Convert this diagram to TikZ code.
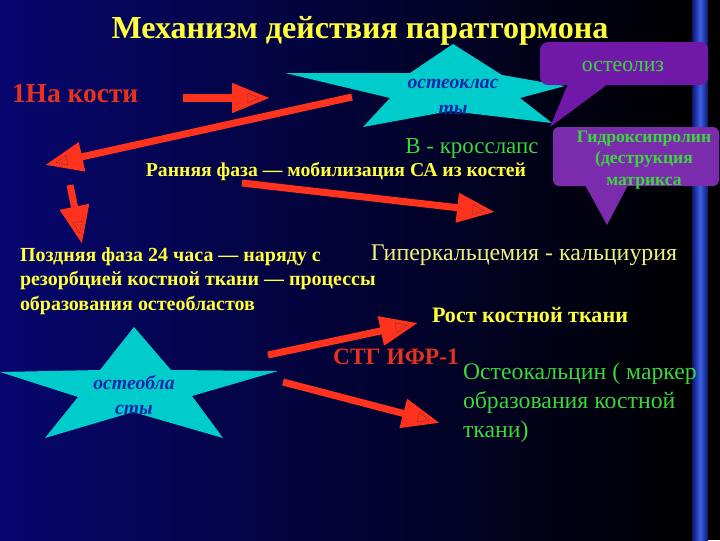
\documentclass[tikz,border=0pt]{standalone}
\usepackage{fontspec}
\setmainfont{Liberation Serif}
\usetikzlibrary{arrows.meta,calc}

\definecolor{bgnavy}{RGB}{6,6,110}
\definecolor{stripebright}{RGB}{60,95,230}
\definecolor{stripedark}{RGB}{12,22,110}
\definecolor{arrowred}{RGB}{255,50,30}
\definecolor{starcyan}{RGB}{0,204,204}
\definecolor{startext}{RGB}{20,40,170}
\definecolor{calloutpurple}{RGB}{112,24,168}
\definecolor{calloutpurpleb}{RGB}{122,44,172}
\definecolor{textgreen}{RGB}{60,215,60}
\definecolor{textyellow}{RGB}{255,255,60}
\definecolor{textpaleyellow}{RGB}{240,240,130}
\definecolor{textred}{RGB}{228,50,30}

\tikzset{
  blockarrow/.style={draw=arrowred, line width=5pt, -{Triangle[length=27pt,width=20pt]}},
  headmark/.style={draw=black!75, line width=0.3pt, dash pattern=on 1pt off 0.8pt},
  txt/.style={inner sep=0pt, outer sep=0pt},
  startxt/.style={txt, text=startext, font=\bfseries\itshape\fontsize{14pt}{18pt}\selectfont, align=center},
}

\newcommand{\blockarrow}[2]{%
  \draw[blockarrow] (#1) -- (#2);
  \draw[headmark] ($(#2)!8pt!(#1)$) -- ($(#2)!16pt!(#1)!3.5pt!90:(#1)$) -- ($(#2)!16pt!(#1)!3.5pt!-90:(#1)$) -- cycle;
}

\begin{document}
\begin{tikzpicture}[x=0.025cm,y=-0.025cm]
% background
\shade[left color=bgnavy, right color=black] (0,0) rectangle (692,540);
\shade[left color=stripedark, right color=stripebright] (692,0) rectangle (700,540);
\shade[left color=stripebright, right color=stripedark] (700,0) rectangle (708,540);
\fill[black] (708,0) rectangle (720,540);
\useasboundingbox (0,0) rectangle (720,540);

% arrow end points
\coordinate (a1s) at (183,98);  \coordinate (a1e) at (270,98);
\coordinate (a2s) at (352,97);  \coordinate (a2e) at (45,165);
\coordinate (a3s) at (70,185);  \coordinate (a3e) at (82,244);
\coordinate (a4s) at (242,183); \coordinate (a4e) at (495,212);
\coordinate (a5s) at (268,355); \coordinate (a5e) at (418,323);
\coordinate (a6s) at (283,382); \coordinate (a6e) at (440,423);

\blockarrow{a1s}{a1e}
\blockarrow{a2s}{a2e}
\blockarrow{a3s}{a3e}
\blockarrow{a4s}{a4e}
\blockarrow{a5s}{a5e}
\blockarrow{a6s}{a6e}

% stars
\fill[starcyan] (453,44) -- (502,75) -- (565,86) -- (520,98) -- (552,123) -- (450,111)
  -- (363,127) -- (390,98) -- (285,73) -- (410,73) -- cycle;
\fill[starcyan] (134,327) -- (171,370) -- (278,371) -- (192,396) -- (223,438) -- (133,412)
  -- (45,438) -- (78,397) -- (0,372) -- (100,370) -- cycle;

\node[startxt] (oclast) at (453,97) {остеоклас\\ты};
\node[startxt] (oblast) at (134,395) {остеобла\\сты};

% callouts
\fill[calloutpurple, rounded corners=5.7pt] (540,42) rectangle (708,85);
\fill[calloutpurple] (568,84) -- (550,127) -- (608,84) -- cycle;
\fill[calloutpurpleb, rounded corners=4.3pt] (553,127) rectangle (719,186);
\fill[calloutpurpleb] (585,185) -- (607,225) -- (628,185) -- cycle;

% texts
\node[txt, text=textyellow, font=\bfseries\fontsize{22.8pt}{27pt}\selectfont] (title) at (360,31) {Механизм действия паратгормона};
\node[txt, anchor=base west, text=textred, font=\bfseries\fontsize{19.5pt}{23pt}\selectfont] (bone) at (12,102) {1На кости};
\node[txt, text=textgreen, font=\fontsize{15.5pt}{19pt}\selectfont] (osteolysis) at (623,66) {остеолиз};
\node[txt, text=textgreen, font=\bfseries\fontsize{12.5pt}{15.3pt}\selectfont, align=center] (hydroxy) at (644,160) {Гидроксипролин\\(деструкция\\матрикса};
\node[txt, text=textgreen, font=\fontsize{16.3pt}{19pt}\selectfont] (crosslaps) at (472,148) {В - кросслапс};
\node[txt, text=textyellow, font=\bfseries\fontsize{14pt}{17pt}\selectfont] (early) at (336,172) {Ранняя фаза — мобилизация СА из костей};
\node[txt, text=textpaleyellow, font=\fontsize{17pt}{20pt}\selectfont] (hyper) at (524,255) {Гиперкальцемия - кальциурия};
\node[txt, anchor=west, text=textyellow, font=\bfseries\fontsize{14.2pt}{17.4pt}\selectfont, align=left] (late) at (20,281) {Поздняя фаза 24 часа — наряду с\\резорбцией костной ткани — процессы\\образования остеобластов};
\node[txt, text=textyellow, font=\bfseries\fontsize{15.7pt}{18pt}\selectfont] (growth) at (530,315) {Рост костной ткани};
\node[txt, text=textred, font=\bfseries\fontsize{16.7pt}{19pt}\selectfont] (stg) at (396,357) {СТГ ИФР-1};
\node[txt, anchor=west, text=textgreen, font=\fontsize{16.9pt}{20.5pt}\selectfont, align=left] (osteocalcin) at (463,403) {Остеокальцин ( маркер\\образования костной\\ткани)};
\end{tikzpicture}
\end{document}
